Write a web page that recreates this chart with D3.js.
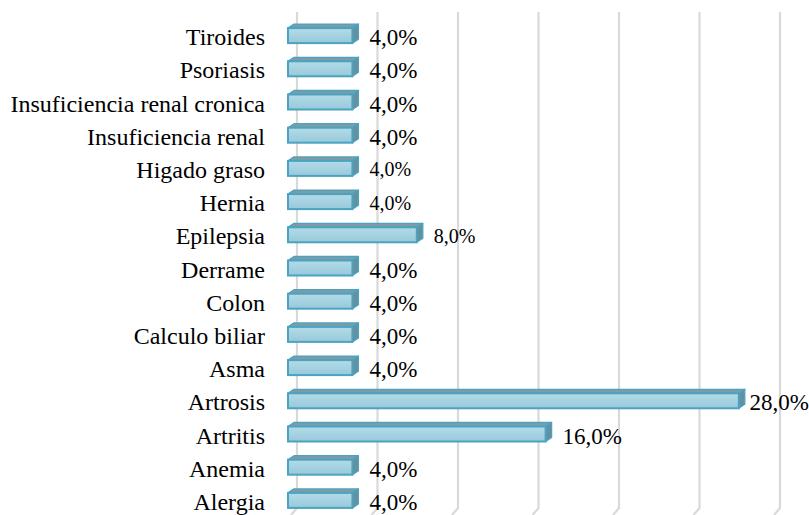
<!DOCTYPE html>
<html>
<head>
<meta charset="utf-8">
<script src="https://cdn.jsdelivr.net/npm/d3@7"></script>
<style>
  html, body { margin: 0; padding: 0; background: #fff; }
  svg { display: block; }
</style>
</head>
<body>
<svg id="chart" width="809" height="515"></svg>
<script>
// Diagnoses, top to bottom, and their share of patients (%)
const categories = [
  "Tiroides", "Psoriasis", "Insuficiencia renal cronica", "Insuficiencia renal",
  "Higado graso", "Hernia", "Epilepsia", "Derrame", "Colon", "Calculo biliar",
  "Asma", "Artrosis", "Artritis", "Anemia", "Alergia"
];
const values = [4, 4, 4, 4, 4, 4, 8, 4, 4, 4, 4, 28, 16, 4, 4];
// Labels set in a slightly smaller type
const smallLabels = ["Higado graso", "Hernia", "Epilepsia"];
const gridTicks = [0, 5, 10, 15, 20, 25, 30];

const W = 809, H = 515;
const FONT = "Liberation Serif";
const svg = d3.select("#chart");

const depthX = 6, depthY = -4;   // 3D extrusion of each bar
const wallShift = 9;             // back wall offset from the bar front plane

const x = d3.scaleLinear().domain([0, 30]).range([288, 771]);
const y = d3.scaleBand().domain(categories).range([19, 517]).paddingInner(0);
const barH = 15;

const fmt = v => d3.format(".1f")(v).replace(".", ",") + "%";

// gradient for bar fronts
const defs = svg.append("defs");
const g1 = defs.append("linearGradient").attr("id", "front").attr("x1", 0).attr("y1", 0).attr("x2", 0).attr("y2", 1);
g1.append("stop").attr("offset", "0%").attr("stop-color", "#b3dbe8");
g1.append("stop").attr("offset", "100%").attr("stop-color", "#98c9da");

// back-wall gridlines with the floor bend at the bottom
const gridG = svg.append("g");
gridTicks.forEach(t => {
  const gx = x(t) + wallShift;
  gridG.append("path")
    .attr("d", `M${gx},12 L${gx},508 L${gx - 6},515`)
    .attr("fill", "none")
    .attr("stroke", "#d9d9d9")
    .attr("stroke-width", 2.2);
});

// bars
const bars = svg.append("g").selectAll("g").data(categories).join("g");
bars.each(function(c, i) {
  const g = d3.select(this);
  const v = values[i];
  const cy = y(c) + y.bandwidth() / 2;
  const x0 = x(0), x1 = x(v);
  const top = cy - barH / 2, bot = cy + barH / 2;
  // top face
  g.append("path")
    .attr("d", `M${x0},${top} L${x0 + depthX},${top + depthY} L${x1 + depthX},${top + depthY} L${x1},${top} Z`)
    .attr("fill", "#7f9ba6").attr("stroke", "#4aa3c1").attr("stroke-width", 1.3).attr("stroke-linejoin", "round");
  // side face
  g.append("path")
    .attr("d", `M${x1},${top} L${x1 + depthX},${top + depthY} L${x1 + depthX},${bot + depthY} L${x1},${bot} Z`)
    .attr("fill", "#67909e").attr("stroke", "#4aa3c1").attr("stroke-width", 1.3).attr("stroke-linejoin", "round");
  // front face
  g.append("rect")
    .attr("x", x0).attr("y", top).attr("width", x1 - x0).attr("height", barH)
    .attr("fill", "url(#front)").attr("stroke", "#4aa3c1").attr("stroke-width", 2);
});

// category labels
svg.append("g").selectAll("text").data(categories).join("text")
  .attr("x", 265)
  .attr("y", c => y(c) + y.bandwidth() / 2 + 9.5)
  .attr("text-anchor", "end")
  .attr("font-family", FONT)
  .attr("font-size", 24)
  .attr("fill", "#000")
  .text(c => c);

// value labels
const vl = svg.append("g").selectAll("text").data(categories).join("text")
  .attr("y", c => y(c) + y.bandwidth() / 2 + (smallLabels.includes(c) ? 8 : 9.5))
  .attr("font-family", FONT)
  .attr("font-size", c => smallLabels.includes(c) ? 20 : 23)
  .attr("fill", "#000")
  .text((c, i) => fmt(values[i]));
vl.each(function(c, i) {
  const t = d3.select(this);
  const w = this.getComputedTextLength();
  const px = Math.min(x(values[i]) + 17, W - w);
  t.attr("x", px);
});
</script>
</body>
</html>
